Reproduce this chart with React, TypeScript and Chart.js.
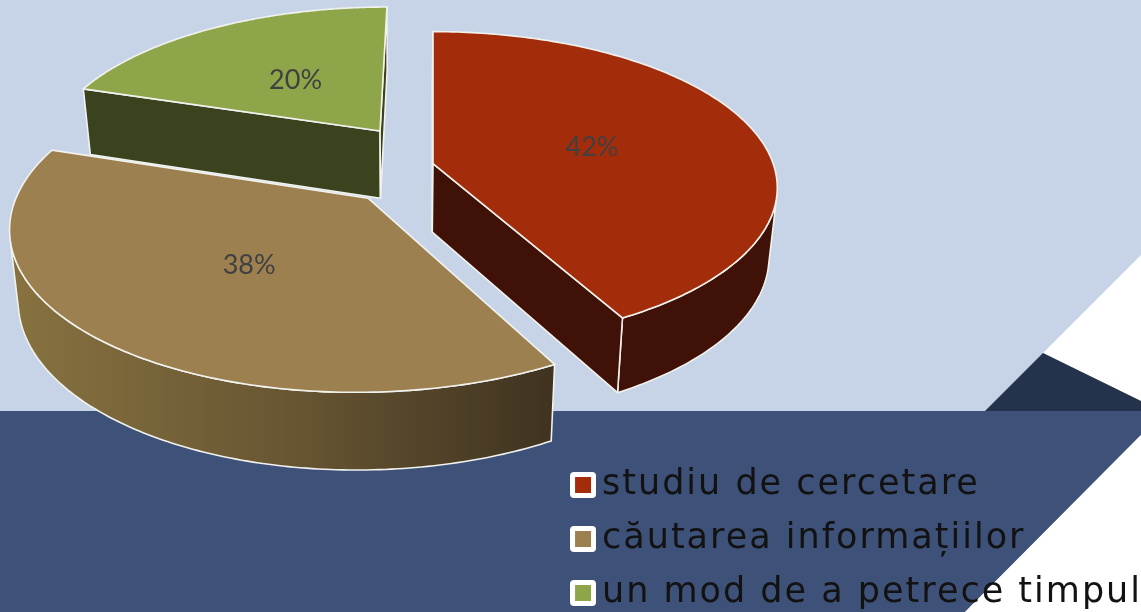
import React, { useEffect, useRef } from "react";
import { Chart, registerables } from "chart.js";

Chart.register(...registerables);

const categories = ["studiu de cercetare", "căutarea informațiilor", "un mod de a petrece timpul"];
const shares = [42, 38, 20];
const topColors = ["#a32d0b", "#9d8050", "#8fa54a"];
const wallColors = ["#401106", "#3f3320", "#3b431e"];

// Where each exploded slice sits on the tilted plane (unit = pie radius)
const sliceShift = [
  [0, -0.035],
  [-0.1846, 0.184],
  [-0.161, -0.2566],
];
const paintOrder = [2, 0, 1];

// View of the tilted pie
const VIEW = { x: 433, y: 169, sx: 342, sy: 154, k: 0.155 };
const project = (X: number, Y: number) => {
  const w = 1 - VIEW.k * Y;
  return [VIEW.x + (VIEW.sx * X) / w, VIEW.y + (VIEW.sy * Y) / w];
};
const drop = (p: number[]) => [p[0] - (p[0] - 400) * 0.022, p[1] + 62 + 0.04 * p[1]];
const EDGE = "#f1f2ee";
const LEGEND_SPACING = "2px";

const trace = (ctx: CanvasRenderingContext2D, pts: number[][]) => {
  ctx.beginPath();
  pts.forEach((p, i) => (i ? ctx.lineTo(p[0], p[1]) : ctx.moveTo(p[0], p[1])));
};
const poly = (ctx: CanvasRenderingContext2D, pts: number[][], fill: string | CanvasGradient) => {
  trace(ctx, pts);
  ctx.closePath();
  ctx.fillStyle = fill;
  ctx.fill();
  ctx.strokeStyle = EDGE;
  ctx.lineWidth = 1.6;
  ctx.lineJoin = "round";
  ctx.stroke();
};
const cross = (a: number[], b: number[], c: number[], d: number[]) =>
  (b[0] - a[0]) * (d[1] - c[1]) - (b[1] - a[1]) * (d[0] - c[0]);

const backdrop = {
  id: "backdrop",
  afterInit(chart: any) {
    chart.ctx.letterSpacing = LEGEND_SPACING;
  },
  beforeDraw(chart: any) {
    const { ctx, width: W, height: H } = chart;
    const area = (pts: number[][], c: string) => {
      trace(ctx, pts);
      ctx.closePath();
      ctx.fillStyle = c;
      ctx.fill();
    };
    area([[0, 0], [W, 0], [W, H], [0, H]], "#c7d4e8");
    area([[W, 255], [1043, 353], [W, 401]], "#ffffff");
    area([[985, 411], [1043, 353], [W, 401], [W, 411]], "#25324b");
    area([[0, 411], [W, 411], [W, 435], [965, H], [0, H]], "#3e5178");
    area([[W, 435], [W, H], [965, H]], "#ffffff");
  },
};

const pie3d = {
  id: "pie3d",
  afterLayout(chart: any) {
    const lg = chart.legend;
    lg.right = 1152;
    lg.left = 1152 - lg.width;
    lg.bottom = 629.5;
    lg.top = 629.5 - lg.height;
  },
  beforeDatasetsDraw(chart: any) {
    const { ctx } = chart;
    const meta = chart.getDatasetMeta(0);
    const total = shares.reduce((a, b) => a + b, 0);
    ctx.save();
    (ctx as any).letterSpacing = "0px";
    for (const i of paintOrder) {
      const arc = meta.data[i];
      const [ox, oy] = sliceShift[i];
      const a0 = arc.startAngle;
      const a1 = arc.endAngle;
      const edge: number[][] = [];
      const n = 160;
      for (let s = 0; s <= n; s++) {
        const a = a0 + ((a1 - a0) * s) / n;
        edge.push(project(ox + Math.cos(a), oy + Math.sin(a)));
      }
      const apex = project(ox, oy);

      // outer rim: only the part that faces the viewer
      let rimFill: string | CanvasGradient = wallColors[i];
      if (i === 1) {
        const g = ctx.createLinearGradient(20, 0, 556, 0);
        g.addColorStop(0, "#86713f");
        g.addColorStop(0.5, "#685633");
        g.addColorStop(1, "#3f3320");
        rimFill = g;
      }
      const front: number[] = [];
      for (let s = 1; s <= n; s++) {
        if (cross(edge[s - 1], edge[s], edge[s], drop(edge[s])) < 0) front.push(s);
      }
      if (front.length) {
        const s0 = front[0] - 1;
        const s1 = front[front.length - 1];
        const upper = edge.slice(s0, s1 + 1);
        poly(ctx, [...upper, ...upper.map(drop).reverse()], rimFill);
      }

      // flat cut faces: only those turned towards the viewer
      const midP = edge[n >> 1];
      for (const p of [edge[0], edge[n]]) {
        const inner = cross(apex, p, apex, midP);
        const down = cross(apex, p, p, drop(p));
        if (inner * down < 0) poly(ctx, [apex, p, drop(p), drop(apex)], wallColors[i]);
      }

      poly(ctx, [apex, ...edge], topColors[i]);
    }
    ctx.font = '27px Lato, sans-serif';
    ctx.fillStyle = "#404040";
    ctx.textAlign = "center";
    ctx.textBaseline = "middle";
    meta.data.forEach((arc: any, i: number) => {
      const mid = (arc.startAngle + arc.endAngle) / 2;
      const [ox, oy] = sliceShift[i];
      const p = project(ox + 0.487 * Math.cos(mid), oy + 0.487 * Math.sin(mid));
      ctx.fillText(`${Math.round((shares[i] / total) * 100)}%`, p[0] + 1.5, p[1] + 2);
    });
    ctx.restore();
    return false;
  },
};

const swatch = (color: string) => {
  const c = document.createElement("canvas");
  c.width = 26;
  c.height = 26;
  const g = c.getContext("2d")!;
  g.fillStyle = "#ffffff";
  g.beginPath();
  g.roundRect(0, 0, 26, 26, 4);
  g.fill();
  g.fillStyle = color;
  g.fillRect(5, 5, 16, 16);
  return c;
};

export default function App() {
  const ref = useRef<HTMLCanvasElement>(null);
  useEffect(() => {
    const canvas = ref.current!;
    const chart = new Chart(canvas, {
      type: "pie",
      data: {
        labels: categories,
        datasets: [{ data: shares, backgroundColor: topColors, borderWidth: 0 }],
      },
      options: {
        responsive: false,
        animation: false,
        layout: { padding: 0 },
        plugins: {
          tooltip: { enabled: false },
          legend: {
            position: "right",
            align: "end",
            maxWidth: 800,
            labels: {
              usePointStyle: true,
              boxWidth: 3,
              boxHeight: 3,
              padding: 19,
              color: "#121212",
              font: { family: "DejaVu Sans", size: 35 },
              generateLabels(c: any) {
                const items = (Chart as any).overrides.pie.plugins.legend.labels.generateLabels(c);
                return items.map((it: any, i: number) => ({ ...it, pointStyle: swatch(topColors[i]) }));
              },
            },
          },
        },
      },
      plugins: [backdrop, pie3d],
    } as any);
    return () => chart.destroy();
  }, []);
  return (
    <div style={{ position: "absolute", left: 0, top: 0, width: 1141, height: 612, overflow: "hidden" }}>
      <canvas ref={ref} width={1141} height={612} style={{ display: "block" }} />
    </div>
  );
}
